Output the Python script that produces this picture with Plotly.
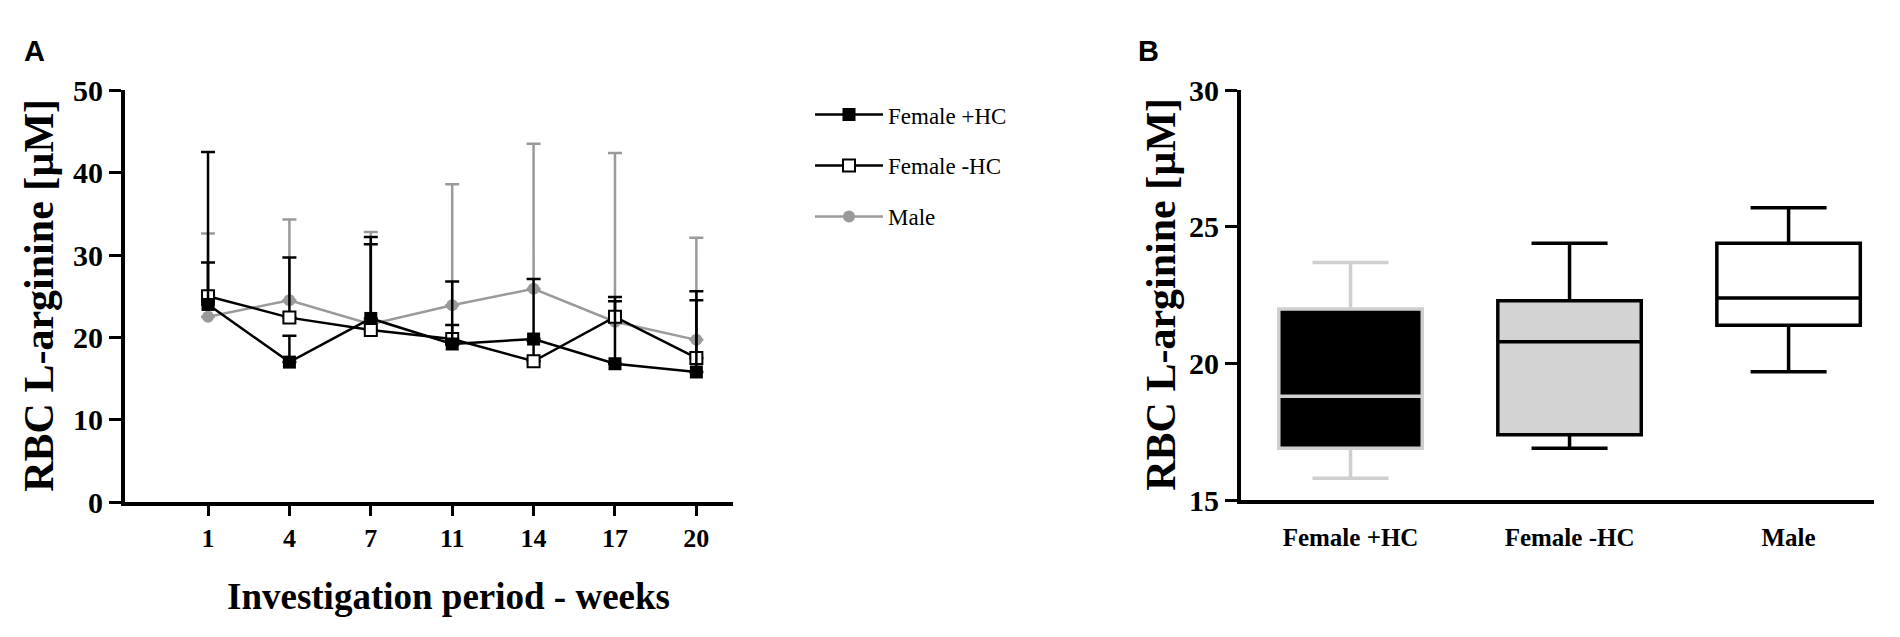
import plotly.graph_objects as go

# panel A: mean RBC L-arginine per week with one-sided SD bars
weeks = ['1', '4', '7', '11', '14', '17', '20']
female_hc = [24.0, 17.0, 22.3, 19.2, 19.8, 16.8, 15.8]
female_hc_sd = [18.5, 3.2, 9.9, 2.3, 7.3, 8.1, 8.7]
female_nohc = [25.0, 22.4, 20.9, 19.8, 17.1, 22.5, 17.5]
female_nohc_sd = [4.1, 7.3, 10.4, 7.0, 2.5, 1.9, 8.1]
male = [22.5, 24.5, 21.6, 23.9, 25.9, 21.9, 19.7]
male_sd = [10.1, 9.8, 11.2, 14.7, 17.6, 20.5, 12.4]

# panel B: box summaries
groups = ['Female +HC', 'Female -HC', 'Male']
lower = [15.8, 16.9, 19.7]
q1 = [16.9, 17.4, 21.4]
median = [18.8, 20.8, 22.4]
q3 = [22.0, 22.3, 24.4]
upper = [23.7, 24.4, 25.7]
box_fill = ['black', '#d3d3d3', 'white']
box_line = ['#cfcfcf', 'black', 'black']

W, H = 1900, 637
GREY = '#9a9a9a'
SERIF = 'Liberation Serif'


def px_x(x):
    return x / W


def px_y(y):
    return 1 - y / H


fig = go.Figure()

fig.add_trace(go.Scatter(
    x=weeks, y=male, name='Male', mode='lines+markers',
    line=dict(color=GREY, width=2.5),
    marker=dict(symbol='circle', size=12, color=GREY),
    error_y=dict(type='data', array=male_sd, symmetric=False,
                 arrayminus=[0] * len(male_sd), color=GREY, thickness=2.5, width=7),
    legendrank=3, legendgroup='m',
))
fig.add_trace(go.Scatter(
    x=weeks, y=female_nohc, name='Female -HC', mode='lines+markers',
    line=dict(color='black', width=2.5),
    marker=dict(symbol='square', size=12, color='white', line=dict(color='black', width=2)),
    error_y=dict(type='data', array=female_nohc_sd, symmetric=False,
                 arrayminus=[0] * len(female_nohc_sd), color='black', thickness=2.5, width=7),
    legendrank=2, legendgroup='fn',
))
fig.add_trace(go.Scatter(
    x=weeks, y=female_hc, name='Female +HC', mode='lines+markers',
    line=dict(color='black', width=2.5),
    marker=dict(symbol='square', size=13, color='black'),
    error_y=dict(type='data', array=female_hc_sd, symmetric=False,
                 arrayminus=[0] * len(female_hc_sd), color='black', thickness=2.5, width=7),
    legendrank=1, legendgroup='fh',
))

for i, g in enumerate(groups):
    fig.add_trace(go.Box(
        x=[g], q1=[q1[i]], median=[median[i]], q3=[q3[i]],
        lowerfence=[lower[i]], upperfence=[upper[i]],
        fillcolor=box_fill[i], line=dict(color=box_line[i], width=3.5),
        width=0.655, whiskerwidth=0.53, boxpoints=False,
        xaxis='x2', yaxis='y2', showlegend=False, hoverinfo='skip',
    ))

axis_common = dict(showline=True, linecolor='black', linewidth=4, showgrid=False,
                   zeroline=False, ticks='outside', tickwidth=3, tickcolor='black')
bold = dict(family=SERIF, color='black', weight='bold')

fig.update_layout(
    width=W, height=H, margin=dict(l=0, r=0, t=0, b=0),
    paper_bgcolor='white', plot_bgcolor='white',
    boxmode='overlay',
    xaxis=dict(axis_common, domain=[px_x(117), px_x(725)], type='category',
               range=[-1.02, 6.45], ticklen=10, tickfont=dict(bold, size=26),
               anchor='y'),
    yaxis=dict(axis_common, domain=[px_y(504), px_y(69)], range=[0, 50], dtick=10,
               ticklen=12, tickfont=dict(bold, size=30), anchor='x'),
    xaxis2=dict(axis_common, domain=[px_x(1233), px_x(1866)], type='category',
                range=[-0.5, 2.39], ticklen=12, tickcolor='rgba(0,0,0,0)',
                tickfont=dict(bold, size=25), anchor='y2'),
    yaxis2=dict(axis_common, domain=[px_y(502), px_y(69)], range=[15, 30], dtick=5,
                ticklen=12, tickfont=dict(bold, size=30), anchor='x2'),
    legend=dict(x=px_x(802), y=px_y(72), xanchor='left', yanchor='top',
                font=dict(family=SERIF, size=23, color='black'),
                itemwidth=68, traceorder='grouped', tracegroupgap=18,
                bgcolor='rgba(0,0,0,0)'),
    showlegend=True,
)

annots = [
    dict(text='A', x=px_x(14), y=px_y(8), xanchor='left', yanchor='top',
         font=dict(family='Liberation Sans', size=29, color='black', weight='bold')),
    dict(text='B', x=px_x(1128), y=px_y(8), xanchor='left', yanchor='top',
         font=dict(family='Liberation Sans', size=29, color='black', weight='bold')),
    dict(text='RBC L-arginine [µM]', x=px_x(31), y=px_y(286), textangle=-90,
         xanchor='center', yanchor='middle', font=dict(bold, size=42)),
    dict(text='RBC L-arginine [µM]', x=px_x(1153), y=px_y(285), textangle=-90,
         xanchor='center', yanchor='middle', font=dict(bold, size=42)),
    dict(text='Investigation period - weeks', x=px_x(440), y=px_y(604),
         xanchor='center', yanchor='middle', font=dict(bold, size=37)),
]
for a in annots:
    fig.add_annotation(xref='paper', yref='paper', showarrow=False, **a)

fig.write_html('out.html')
